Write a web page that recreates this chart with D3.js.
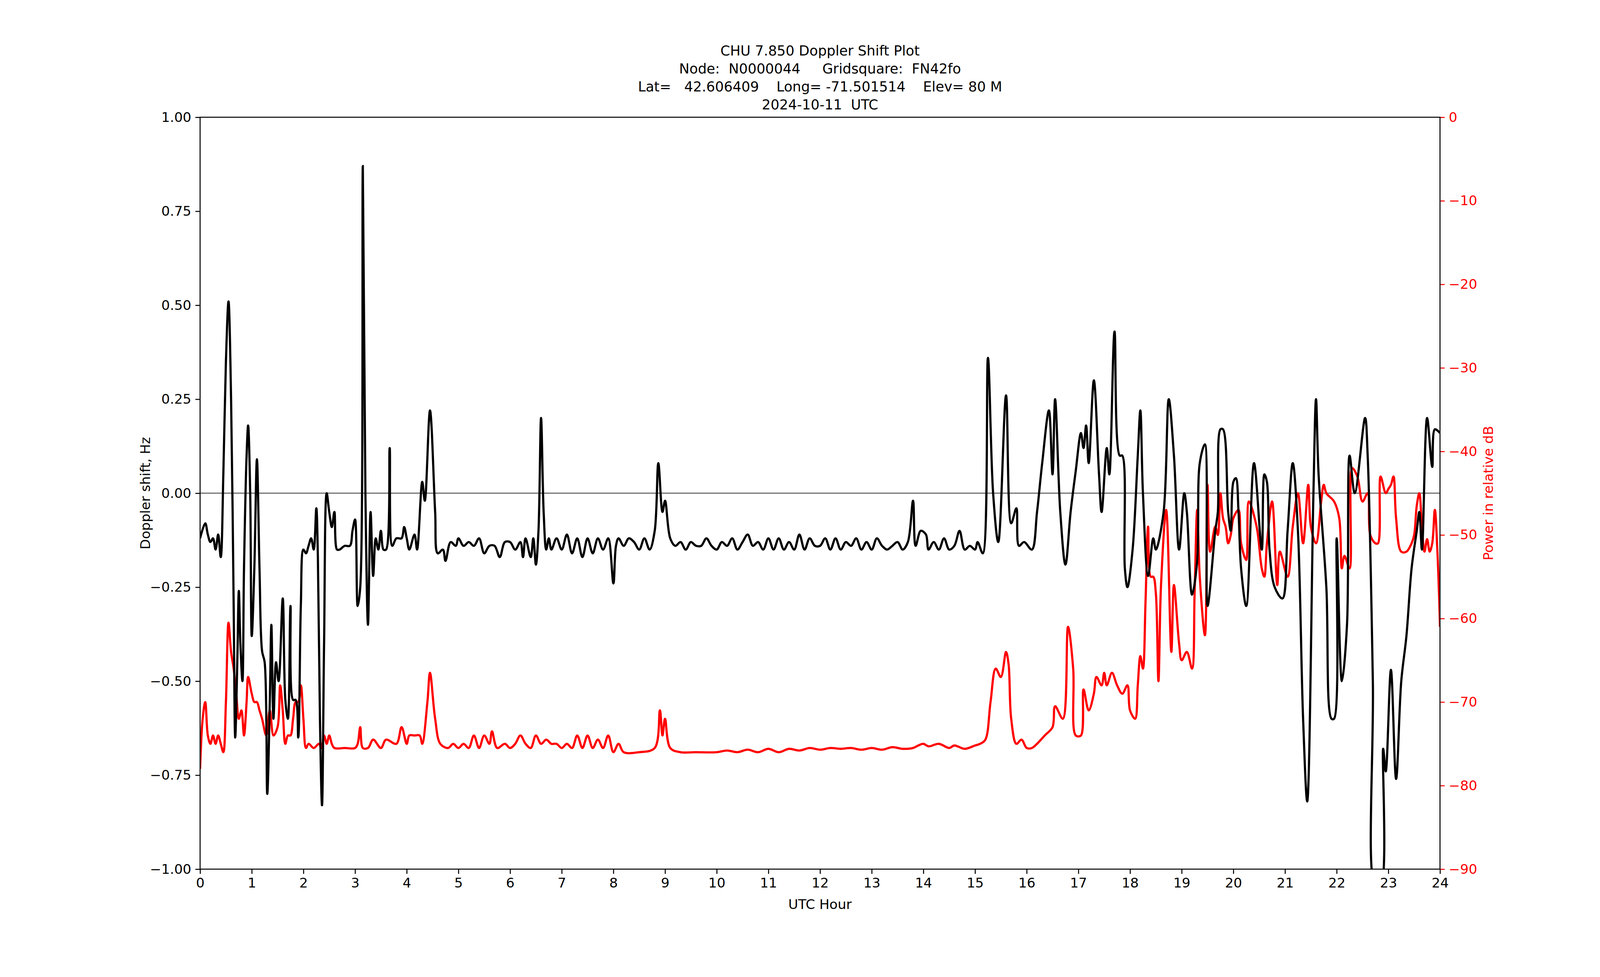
<!DOCTYPE html>
<html><head><meta charset="utf-8">
<script src="https://cdn.jsdelivr.net/npm/d3@7"></script>
<style>html,body{margin:0;padding:0;background:#fff;overflow:hidden}svg{display:block}text{font-family:"DejaVu Sans",sans-serif}</style>
</head><body><svg id="c"></svg>
<script>
const titleLines = ["CHU 7.850 Doppler Shift Plot","Node:  N0000044     Gridsquare:  FN42fo","Lat=   42.606409    Long= -71.501514    Elev= 80 M","2024-10-11  UTC"];
const xTicks = d3.range(0,25);
const dopplerTicks = [-1,-0.75,-0.5,-0.25,0,0.25,0.5,0.75,1];
const powerTicks = [0,-10,-20,-30,-40,-50,-60,-70,-80,-90];
const dopplerHours = [0,0.1,0.15,0.2,0.25,0.3,0.35,0.4,0.45,0.5,0.55,0.6,0.65,0.68,0.72,0.75,0.78,0.82,0.85,0.9,0.93,0.97,1.0,1.05,1.1,1.15,1.2,1.25,1.3,1.35,1.38,1.42,1.47,1.52,1.6,1.65,1.7,1.75,1.8,1.85,1.9,1.95,2.0,2.05,2.1,2.15,2.2,2.25,2.28,2.32,2.36,2.4,2.45,2.5,2.55,2.6,2.65,2.7,2.8,2.9,2.95,3.0,3.05,3.1,3.15,3.2,3.25,3.3,3.35,3.4,3.45,3.5,3.55,3.6,3.67,3.72,3.8,3.9,3.95,4.0,4.05,4.15,4.2,4.3,4.35,4.45,4.55,4.6,4.7,4.75,4.85,4.95,5.0,5.1,5.2,5.3,5.4,5.5,5.6,5.7,5.8,5.9,6.0,6.1,6.2,6.25,6.3,6.4,6.45,6.5,6.55,6.6,6.65,6.7,6.75,6.8,6.9,7.0,7.1,7.2,7.3,7.4,7.5,7.6,7.7,7.8,7.9,8.0,8.05,8.1,8.2,8.3,8.4,8.5,8.6,8.7,8.8,8.87,8.95,9.0,9.1,9.2,9.3,9.4,9.5,9.6,9.7,9.8,9.9,10.0,10.1,10.2,10.3,10.4,10.5,10.6,10.7,10.8,10.9,11.0,11.1,11.2,11.3,11.4,11.5,11.6,11.7,11.8,11.9,12.0,12.1,12.2,12.3,12.4,12.5,12.6,12.7,12.8,12.9,13.0,13.1,13.2,13.3,13.4,13.5,13.6,13.7,13.8,13.85,13.95,14.05,14.1,14.2,14.3,14.4,14.5,14.6,14.7,14.8,14.9,15.0,15.05,15.15,15.25,15.35,15.45,15.6,15.7,15.8,15.85,15.95,16.1,16.2,16.3,16.43,16.5,16.55,16.65,16.75,16.85,16.95,17.05,17.1,17.15,17.2,17.3,17.4,17.45,17.55,17.6,17.7,17.8,17.85,17.9,17.95,18.05,18.15,18.2,18.25,18.35,18.45,18.5,18.65,18.75,18.85,18.95,19.05,19.1,19.2,19.3,19.35,19.45,19.5,19.65,19.7,19.75,19.8,19.9,19.95,20.0,20.05,20.1,20.15,20.25,20.4,20.55,20.6,20.65,20.7,20.8,20.95,21.05,21.15,21.25,21.35,21.43,21.55,21.6,21.65,21.8,21.9,21.95,22.0,22.1,22.2,22.25,22.35,22.55,22.6,22.7,22.75,22.85,22.9,22.95,23.05,23.15,23.25,23.35,23.45,23.55,23.6,23.65,23.75,23.85,23.9,24.0];
const dopplerValues = [-0.12,-0.08,-0.11,-0.13,-0.12,-0.15,-0.11,-0.17,0.05,0.35,0.51,0.25,-0.3,-0.65,-0.45,-0.26,-0.4,-0.5,-0.2,0.1,0.18,0.0,-0.38,-0.2,0.09,-0.2,-0.42,-0.45,-0.8,-0.55,-0.35,-0.6,-0.45,-0.5,-0.28,-0.55,-0.6,-0.3,-0.55,-0.55,-0.65,-0.3,-0.15,-0.16,-0.14,-0.12,-0.15,-0.04,-0.17,-0.6,-0.83,-0.4,0.0,-0.05,-0.09,-0.05,-0.15,-0.15,-0.14,-0.14,-0.1,-0.07,-0.3,-0.25,0.87,0.0,-0.35,-0.05,-0.22,-0.12,-0.15,-0.1,-0.15,-0.15,0.12,-0.14,-0.12,-0.12,-0.09,-0.12,-0.15,-0.11,-0.15,0.03,-0.02,0.22,-0.05,-0.16,-0.15,-0.18,-0.13,-0.14,-0.12,-0.14,-0.13,-0.14,-0.12,-0.16,-0.14,-0.14,-0.17,-0.13,-0.13,-0.15,-0.13,-0.17,-0.12,-0.17,-0.12,-0.19,-0.1,0.2,-0.05,-0.15,-0.12,-0.15,-0.12,-0.15,-0.11,-0.16,-0.12,-0.17,-0.12,-0.16,-0.12,-0.15,-0.12,-0.24,-0.14,-0.12,-0.14,-0.12,-0.13,-0.15,-0.12,-0.15,-0.1,0.08,-0.05,-0.02,-0.12,-0.14,-0.13,-0.15,-0.13,-0.14,-0.14,-0.12,-0.14,-0.15,-0.13,-0.14,-0.12,-0.15,-0.13,-0.11,-0.14,-0.13,-0.15,-0.12,-0.15,-0.12,-0.15,-0.13,-0.15,-0.11,-0.15,-0.12,-0.14,-0.14,-0.12,-0.15,-0.12,-0.15,-0.13,-0.14,-0.12,-0.15,-0.13,-0.15,-0.12,-0.14,-0.15,-0.14,-0.13,-0.15,-0.13,-0.02,-0.14,-0.1,-0.11,-0.15,-0.13,-0.15,-0.12,-0.15,-0.14,-0.1,-0.15,-0.14,-0.15,-0.13,-0.16,0.36,0.0,-0.13,0.26,-0.08,-0.04,-0.14,-0.13,-0.15,-0.05,0.08,0.22,0.05,0.25,-0.05,-0.19,-0.05,0.06,0.16,0.12,0.18,0.08,0.3,0.05,-0.05,0.12,0.05,0.43,0.1,0.1,-0.2,-0.25,-0.15,0.1,0.22,0.0,-0.22,-0.12,-0.15,-0.05,0.25,0.1,-0.15,0.0,-0.05,-0.27,-0.18,0.08,0.13,-0.3,-0.1,-0.05,0.17,0.17,-0.05,-0.1,0.03,0.04,-0.05,-0.2,-0.3,0.08,-0.15,0.05,0.03,-0.15,-0.25,-0.28,-0.1,0.08,-0.1,-0.6,-0.82,0.0,0.25,0.05,-0.25,-0.6,-0.6,-0.12,-0.5,-0.35,0.1,0.0,0.2,0.1,-0.5,-1.05,-1.05,-0.68,-0.74,-0.47,-0.76,-0.5,-0.38,-0.2,-0.1,-0.05,-0.15,0.2,0.07,0.17,0.16];
const powerHours = [0,0.05,0.1,0.15,0.2,0.25,0.3,0.35,0.4,0.45,0.5,0.55,0.6,0.65,0.7,0.75,0.8,0.85,0.9,0.93,1.0,1.05,1.1,1.15,1.2,1.28,1.35,1.42,1.5,1.55,1.6,1.65,1.7,1.75,1.8,1.85,1.9,1.95,2.0,2.05,2.1,2.2,2.3,2.35,2.4,2.45,2.5,2.55,2.6,2.8,3.0,3.05,3.1,3.15,3.25,3.35,3.5,3.6,3.8,3.9,4.0,4.05,4.15,4.25,4.3,4.4,4.45,4.55,4.65,4.8,4.9,5.0,5.1,5.2,5.3,5.4,5.5,5.6,5.65,5.75,5.9,6.0,6.1,6.2,6.3,6.4,6.5,6.6,6.7,6.8,6.9,7.0,7.1,7.2,7.3,7.4,7.5,7.6,7.7,7.8,7.9,8.0,8.1,8.2,8.5,8.8,8.9,8.95,9.0,9.1,9.3,9.6,10.0,10.2,10.4,10.6,10.8,11.0,11.2,11.4,11.6,11.8,12.0,12.2,12.4,12.6,12.8,13.0,13.2,13.4,13.6,13.8,13.9,14.0,14.1,14.3,14.5,14.6,14.8,15.0,15.1,15.2,15.3,15.4,15.5,15.6,15.65,15.7,15.8,15.9,16.0,16.1,16.2,16.35,16.5,16.55,16.7,16.8,16.9,16.95,17.05,17.1,17.2,17.3,17.35,17.45,17.5,17.55,17.65,17.75,17.85,17.95,18.0,18.1,18.15,18.2,18.25,18.3,18.35,18.4,18.45,18.5,18.55,18.6,18.7,18.8,18.85,18.95,19.0,19.1,19.2,19.25,19.3,19.35,19.45,19.5,19.55,19.65,19.7,19.75,19.8,19.85,19.9,19.95,20.0,20.1,20.15,20.25,20.3,20.45,20.55,20.6,20.65,20.75,20.85,20.9,21.05,21.15,21.25,21.35,21.45,21.5,21.6,21.7,21.75,21.8,21.95,22.05,22.1,22.15,22.25,22.3,22.4,22.5,22.6,22.65,22.75,22.8,22.85,22.95,23.0,23.05,23.1,23.15,23.25,23.35,23.45,23.5,23.55,23.6,23.65,23.7,23.75,23.8,23.85,23.9,23.95,24.0];
const powerValues = [-78,-72,-70,-74,-75,-74,-75,-74,-75,-76,-70,-60.5,-64,-66,-69,-72,-71,-74,-70,-67,-69,-70,-70,-71,-72,-74,-71,-74,-73,-68,-71,-75,-74,-74,-72,-70,-70,-68,-72,-75.5,-75,-75.5,-75,-75.5,-74,-75,-74,-75,-75.5,-75.5,-75.5,-75,-73,-75.5,-75.5,-74.5,-75.5,-74.5,-75,-73,-75,-74,-74,-74,-75,-70,-66.5,-72,-75,-75.5,-75,-75.5,-75,-75.5,-74,-75.5,-74,-75,-73.5,-75.5,-75,-75.5,-75,-74,-75,-75.5,-74,-75,-74.5,-75,-75,-75.5,-75,-75.5,-74,-75.5,-74,-75.5,-74.5,-75.5,-74,-76,-75,-76,-76,-75.5,-71,-74,-72,-75.5,-76,-76,-76,-75.8,-76,-75.7,-76,-75.6,-76,-75.6,-75.8,-75.5,-75.7,-75.5,-75.6,-75.5,-75.7,-75.5,-75.7,-75.4,-75.6,-75.5,-75.2,-75,-75.3,-75,-75.5,-75.2,-75.6,-75.2,-75,-74.5,-70,-66,-67,-64,-65.5,-72,-75,-74.5,-75.5,-75.5,-75,-74,-73,-70.5,-72,-61,-66,-74,-74,-68.5,-71,-69,-67,-68,-66.5,-68,-66.5,-68,-69,-68,-71,-72,-68,-64.5,-66,-58,-49,-55,-55,-57,-67.5,-56,-47,-64,-56,-63,-65,-64,-66,-57,-47,-55,-62,-44,-52,-49,-50,-45,-48,-49,-51,-50,-48,-47,-51,-53,-46,-49,-54,-55,-51,-46,-56,-52,-55,-49,-45,-51,-44,-49,-51,-46,-44,-45,-46,-48,-54,-52.5,-54,-42,-43,-46,-45,-50,-51,-51,-43,-45,-44.5,-44,-43,-48,-52,-52,-51,-50,-46.5,-45,-49,-52,-50.5,-52,-51,-47,-52,-61,-63];

const W = window.innerWidth, H = window.innerHeight;
const sx = W/4750, sy = H/2500, fs = Math.min(sx, sy);
const svg = d3.select("#c").attr("width",W).attr("height",H);
const L=594*sx,R=4275*sx,T=300*sy,B=2224*sy;
const x = d3.scaleLinear().domain([0,24]).range([L,R]);
const y = d3.scaleLinear().domain([-1,1]).range([B,T]);
const y2 = d3.scaleLinear().domain([-90,0]).range([B,T]);

svg.append("defs").append("clipPath").attr("id","clip").append("rect").attr("x",L).attr("y",T).attr("width",R-L).attr("height",B-T);
const g = svg.append("g").attr("clip-path","url(#clip)");
g.append("line").attr("x1",L).attr("x2",R).attr("y1",y(0)).attr("y2",y(0)).attr("stroke","#808080").attr("stroke-width",4*fs);
const red = powerHours.map((h,i)=>[h,powerValues[i]]);
const blk = dopplerHours.map((h,i)=>[h,dopplerValues[i]]);
g.append("path").datum(red).attr("fill","none").attr("stroke","#ff0000").attr("stroke-width",6.5*fs)
 .attr("d",d3.line().x(d=>x(d[0])).y(d=>y2(d[1])).curve(d3.curveCatmullRom.alpha(0.5)));
g.append("path").datum(blk).attr("fill","none").attr("stroke","#000").attr("stroke-width",6.5*fs)
 .attr("d",d3.line().x(d=>x(d[0])).y(d=>y(d[1])).curve(d3.curveCatmullRom.alpha(0.5)));

function style(sel,color){
  sel.select(".domain").remove();
  sel.selectAll("line").attr("stroke",color).attr("stroke-width",3*fs);
  sel.selectAll("text").attr("fill",color).attr("font-size",40*fs).attr("font-family","DejaVu Sans");
}
const fmt = d=>d.toFixed(2).replace("-","\u2212");
svg.append("g").attr("transform",`translate(0,${B})`).call(d3.axisBottom(x).tickValues(xTicks).tickSize(14*fs).tickPadding(12*fs)).call(s=>style(s,"#000"));
svg.append("g").attr("transform",`translate(${L},0)`).call(d3.axisLeft(y).tickValues(dopplerTicks).tickFormat(fmt).tickSize(14*fs).tickPadding(12*fs)).call(s=>style(s,"#000"));
svg.append("g").attr("transform",`translate(${R},0)`).call(d3.axisRight(y2).tickValues(powerTicks).tickFormat(d=>String(d).replace("-","\u2212")).tickSize(14*fs).tickPadding(12*fs)).call(s=>style(s,"#ff0000"));
svg.append("rect").attr("x",L).attr("y",T).attr("width",R-L).attr("height",B-T).attr("fill","none").attr("stroke","#000").attr("stroke-width",3*fs);

titleLines.forEach((t,i)=>svg.append("text").attr("x",(L+R)/2).attr("y",(142+i*46)*sy).attr("text-anchor","middle").attr("font-size",41*fs).attr("xml:space","preserve").text(t));
svg.append("text").attr("x",(L+R)/2).attr("y",2326*sy).attr("text-anchor","middle").attr("font-size",40*fs).text("UTC Hour");
svg.append("text").attr("transform",`translate(${445*sx},${(T+B)/2}) rotate(-90)`).attr("text-anchor","middle").attr("font-size",40*fs).text("Doppler shift, Hz");
svg.append("text").attr("transform",`translate(${4432*sx},${(T+B)/2}) rotate(-90)`).attr("text-anchor","middle").attr("font-size",40*fs).attr("fill","#ff0000").text("Power in relative dB");
</script></body></html>
